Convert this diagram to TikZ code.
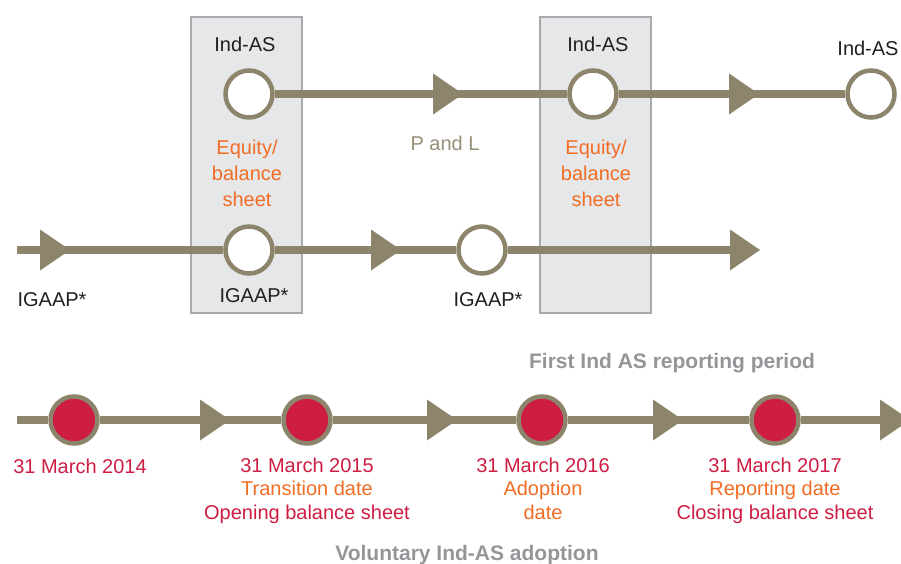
\documentclass[tikz,border=0pt]{standalone}
\usepackage{fontspec}
\setmainfont{Liberation Sans}
\usetikzlibrary{arrows.meta,positioning,calc}

\definecolor{trackcol}{RGB}{140,133,107}
\definecolor{datered}{RGB}{206,29,66}
\definecolor{noteorange}{RGB}{241,108,36}
\definecolor{panelfill}{RGB}{230,231,232}
\definecolor{panelline}{RGB}{167,169,172}
\definecolor{headgray}{RGB}{147,149,152}
\definecolor{pltext}{RGB}{150,143,118}
\definecolor{inktext}{RGB}{35,31,32}

\begin{document}
\begin{tikzpicture}[
    x=1pt, y=-1pt,
    >={Triangle[length=30pt,width=41pt,line width=0pt]}, % 三角箭头
    font=\fontsize{20}{24}\selectfont,
    track/.style={draw=trackcol, line width=8pt},
    ring/.style={circle, draw=trackcol, line width=4.5pt, fill=white,
                 minimum size=47pt, inner sep=0pt},
    dot/.style={ring, fill=datered},
    panel/.style={draw=panelline, fill=panelfill, line width=1.5pt},
    lab/.style={anchor=base, inner sep=0pt, text=inktext},
    head/.style={lab, text=headgray, font=\fontsize{21}{24}\selectfont\bfseries}
]
    \useasboundingbox (0,0) rectangle (901,563);

    % --- 灰色面板 ---
    \draw[panel] (191,17) rectangle (302,313);
    \draw[panel] (540,17) rectangle (651,313);

    % --- 定义节点与坐标 ---
    % Ind-AS 线上的圆
    \node[ring] (ind1) at (249,94) {};
    \node[ring] (ind2) at (593,94) {};
    \node[ring] (ind3) at (871,94) {};
    \coordinate (a1) at (463,94);
    \coordinate (a2) at (759,94);

    % IGAAP 线上的圆
    \coordinate (m0) at (17,250);
    \coordinate (m1) at (70,250);
    \node[ring] (ig1) at (249,250) {};
    \coordinate (m2) at (401,250);
    \node[ring] (ig2) at (482,250) {};
    \coordinate (m3) at (760,250);

    % 时间轴上的日期点
    \coordinate (b0) at (17,420);
    \node[dot] (d1) at (74,420) {};
    \coordinate (b1) at (230,420);
    \node[dot] (d2) at (307,420) {};
    \coordinate (b2) at (457,420);
    \node[dot] (d3) at (542,420) {};
    \coordinate (b3) at (683,420);
    \node[dot] (d4) at (775,420) {};
    \coordinate (b4) at (910,420);

    % --- 绘制线段 ---
    % 1. Ind-AS 线
    \draw[track] (ind1) -- (ind2);
    \draw[track] (ind2) -- (ind3);
    \draw[track,->] (ind1) -- (a1);
    \draw[track,->] (ind2) -- (a2);

    % 2. IGAAP 线
    \draw[track] (m0) -- (ig1);
    \draw[track] (ig1) -- (ig2);
    \draw[track,->] (m0) -- (m1);
    \draw[track,->] (ig1) -- (m2);
    \draw[track,->] (ig2) -- (m3);

    % 3. 时间轴
    \draw[track] (b0) -- (d1);
    \draw[track] (d1) -- (d2);
    \draw[track] (d2) -- (d3);
    \draw[track] (d3) -- (d4);
    \draw[track,->] (d1) -- (b1);
    \draw[track,->] (d2) -- (b2);
    \draw[track,->] (d3) -- (b3);
    \draw[track,->] (d4) -- (b4);

    % --- 添加标签 ---
    \node[lab] (indlab1) at (245,51) {Ind-AS};
    \node[lab] (indlab2) at (598,51) {Ind-AS};
    \node[lab] (indlab3) at (868,55) {Ind-AS};

    % 多行节点的 base 在末行
    \node[lab, text=noteorange, align=center, font=\fontsize{20}{26}\selectfont]
        (eq1) at (247,206) {Equity/\\balance\\sheet};
    \node[lab, text=noteorange, align=center, font=\fontsize{20}{26}\selectfont]
        (eq2) at (596,206) {Equity/\\balance\\sheet};

    \node[lab, text=pltext] (pl) at (445,150) {P and L};

    \node[lab] (iglab0) at (52,306) {IGAAP*};
    \node[lab] (iglab1) at (254,302) {IGAAP*};
    \node[lab] (iglab2) at (488,306) {IGAAP*};

    \node[head] (period) at (672,368) {First Ind AS reporting period};

    % 日期说明
    \node[lab, text=datered] (dl1) at (80,473) {31 March 2014};
    \node[lab, text=datered, align=center, font=\fontsize{20}{23.5}\selectfont]
        (dl2) at (307,519)
        {31 March 2015\\\textcolor{noteorange}{Transition date}\\Opening balance sheet};
    \node[lab, text=noteorange, align=center, font=\fontsize{20}{23.5}\selectfont]
        (dl3) at (543,519)
        {\textcolor{datered}{31 March 2016}\\Adoption\\date};
    \node[lab, text=datered, align=center, font=\fontsize{20}{23.5}\selectfont]
        (dl4) at (775,519)
        {31 March 2017\\\textcolor{noteorange}{Reporting date}\\Closing balance sheet};

    \node[head] (voluntary) at (467,560) {Voluntary Ind-AS adoption};
\end{tikzpicture}
\end{document}
